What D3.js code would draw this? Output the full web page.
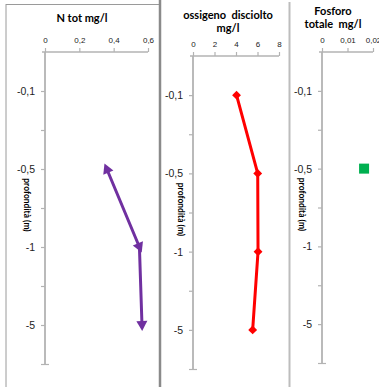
<!DOCTYPE html>
<html>
<head>
<meta charset="utf-8">
<script src="https://cdn.jsdelivr.net/npm/d3@7"></script>
<style>
  html, body { margin: 0; padding: 0; background: #fff; }
  svg { display: block; font-family: Lato, "Open Sans", sans-serif; }
</style>
</head>
<body>
<svg id="chart" width="379" height="387"></svg>
<script>
// Depth categories (top to bottom) and measured values per depth
const depthLabels = ["-0,1", "-0,5", "-1", "-5"];
const nTot = [null, 0.36, 0.55, 0.565];          // N tot mg/l
const ossigeno = [4.05, 6.02, 6.05, 5.55];        // ossigeno disciolto mg/l
const fosforo = [null, 0.0165, null, null];       // Fosforo totale mg/l

const nTicks = [0, 0.2, 0.4, 0.6];
const oTicks = [0, 2, 4, 6, 8];
const pTicks = [0, 0.01, 0.02];

const svg = d3.select("#chart");
const fmt = d => d3.format("")(d).replace(".", ",");
const axisGrey = "#b3b3b3";

// Panel frames
svg.append("line").attr("x1", 6).attr("x2", 6).attr("y1", 4).attr("y2", 387)
  .attr("stroke", "#9a9a9a").attr("stroke-width", 1);
svg.append("line").attr("x1", 6).attr("x2", 160).attr("y1", 4.5).attr("y2", 4.5)
  .attr("stroke", "#9a9a9a").attr("stroke-width", 1);
svg.append("line").attr("x1", 160).attr("x2", 160).attr("y1", 0).attr("y2", 387)
  .attr("stroke", "#8a8a8a").attr("stroke-width", 2.5);
svg.append("line").attr("x1", 289.5).attr("x2", 289.5).attr("y1", 2).attr("y2", 387)
  .attr("stroke", "#bdbdbd").attr("stroke-width", 2);

const panels = [
  { title: ["N tot mg/l"], titleX: 82, titleY: 22, values: nTot, domain: [0, 0.6], ticks: nTicks,
    x0: 45, x1: 148, top: 52, bottom: 364, color: "#7030a0", marker: "triangle", labelX: 26 },
  { title: ["ossigeno  disciolto", "mg/l"], titleX: 228, titleY: 19, values: ossigeno, domain: [0, 8], ticks: oTicks,
    x0: 193, x1: 279, top: 56, bottom: 369, color: "#ff0000", marker: "diamond", labelX: 180 },
  { title: ["Fosforo", "totale  mg/l"], titleX: 333, titleY: 15, values: fosforo, domain: [0, 0.02], ticks: pTicks,
    x0: 322, x1: 373, top: 52, bottom: 363, color: "#00b050", marker: "square", labelX: 301 }
];

panels.forEach(p => {
  const g = svg.append("g");
  const x = d3.scaleLinear().domain(p.domain).range([p.x0, p.x1]);
  // Depth axis: 4 categories at odd positions of an 8-step scale
  const y = d3.scaleLinear().domain([0, 8]).range([p.top, p.bottom]);
  const yPos = i => y(2 * i + 1);

  // Title
  const t = g.append("text").attr("x", p.titleX).attr("y", p.titleY)
    .attr("text-anchor", "middle").attr("font-size", 11).attr("font-weight", "bold").attr("fill", "#000");
  p.title.forEach((line, i) => {
    t.append("tspan").attr("x", p.titleX).attr("dy", i === 0 ? 0 : 13).attr("xml:space", "preserve").text(line);
  });

  // Value axis across the top
  const xa = g.append("g").attr("transform", `translate(0,${p.top})`)
    .call(d3.axisTop(x).tickValues(p.ticks).tickFormat(fmt).tickSize(4).tickPadding(5));
  xa.select(".domain").attr("stroke", axisGrey).attr("stroke-width", 1.5)
    .attr("d", `M${p.x0 - 3},0H${p.x1}`);
  xa.selectAll(".tick line").attr("stroke", axisGrey).attr("stroke-width", 1.2);
  xa.selectAll(".tick text").attr("font-size", 8).attr("fill", "#222");

  // Depth axis
  const ya = g.append("g").attr("transform", `translate(${p.x0},0)`)
    .call(d3.axisLeft(y).tickValues(d3.range(0, 9)).tickSize(4).tickPadding(6)
      .tickFormat(v => v % 2 === 1 ? depthLabels[(v - 1) / 2] : ""));
  ya.select(".domain").attr("stroke", axisGrey).attr("stroke-width", 1.8)
    .attr("d", `M0,${p.top}V${p.bottom}`);
  ya.selectAll(".tick line").attr("stroke", axisGrey).attr("stroke-width", 1.2)
    .attr("x2", v => -4).attr("x1", v => v === 8 ? 4 : 0);
  ya.selectAll(".tick").filter(v => v === 0).remove();
  ya.selectAll(".tick text").attr("font-size", 10.5).attr("fill", "#222");

  // Axis title (rotated)
  const cy = (yPos(1) + yPos(2)) / 2 - 3;
  g.append("text").attr("transform", `translate(${p.labelX},${cy}) rotate(90)`)
    .attr("text-anchor", "middle").attr("dominant-baseline", "middle")
    .attr("font-size", 8.5).attr("font-weight", "bold").attr("fill", "#000")
    .text("profondità (m)");

  // Series line
  const pts = p.values.map((v, i) => ({ v, i })).filter(d => d.v != null);
  const line = d3.line().x(d => x(d.v)).y(d => yPos(d.i));
  if (pts.length > 1) {
    g.append("path").datum(pts).attr("d", line).attr("fill", "none")
      .attr("stroke", p.color).attr("stroke-width", 3).attr("stroke-linejoin", "round");
  }

  // Markers
  pts.forEach((d, k) => {
    const cx = x(d.v), cyp = yPos(d.i);
    if (p.marker === "triangle") {
      // arrow-like triangles oriented along the profile
      let a;
      if (k === 0) {
        const n = pts[1];
        a = Math.atan2(cyp - yPos(n.i), cx - x(n.v));
      } else {
        const q = pts[k - 1];
        a = Math.atan2(cyp - yPos(q.i), cx - x(q.v));
      }
      const deg = a * 180 / Math.PI;
      g.append("path").attr("d", "M6,0L-4,-5.5L-4,5.5Z")
        .attr("transform", `translate(${cx},${cyp}) rotate(${deg})`)
        .attr("fill", p.color);
    } else if (p.marker === "diamond") {
      g.append("path").attr("d", d3.symbol(d3.symbolDiamond2, 50)())
        .attr("transform", `translate(${cx},${cyp})`).attr("fill", p.color);
    } else {
      g.append("rect").attr("x", cx - 5).attr("y", cyp - 5).attr("width", 10).attr("height", 10)
        .attr("fill", p.color);
    }
  });
});
</script>
</body>
</html>
